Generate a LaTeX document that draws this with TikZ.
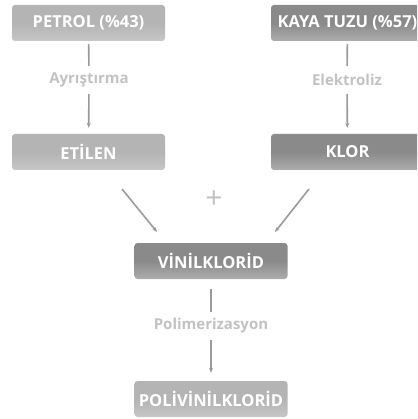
\documentclass[tikz,border=0pt]{standalone}
\usepackage{fontspec}
\setmainfont{Open Sans}
\usetikzlibrary{arrows.meta}
\definecolor{lightbox}{HTML}{B4B4B4}
\definecolor{darkbox}{HTML}{8A8A8A}
\definecolor{labgray}{HTML}{C2C2C2}
\definecolor{linegray}{HTML}{9A9A9A}
\tikzset{
  boxbase/.style={rounded corners=3pt, minimum width=153pt, minimum height=36pt, inner sep=0pt,
    text=white, font=\fontsize{16.5}{18}\selectfont\bfseries},
  lightnode/.style={boxbase, top color=lightbox, bottom color=lightbox!75!white, middle color=lightbox},
  darknode/.style={boxbase, top color=darkbox, bottom color=darkbox!70!white, middle color=darkbox},
  steplabel/.style={text=labgray, font=\fontsize{15}{17}\selectfont\bfseries, inner sep=0pt, minimum height=28pt},
  conn/.style={draw=linegray, line width=1.6pt},
  connarrow/.style={conn, -{Stealth[length=5pt,width=4pt]}}
}
\begin{document}
\begin{tikzpicture}[x=1pt,y=-1pt]
\useasboundingbox (0,0) rectangle (417,419);
\clip (0,0) rectangle (417,419);
\node[lightnode] (petrol) at (88.5,23) {PETROL (\%43)};
\node[darknode] (kaya) at (347.5,23) {KAYA TUZU (\%57)};
\node[steplabel] (ayr) at (89,80) {Ayrıştırma};
\node[steplabel] (elek) at (347,80) {Elektroliz};
\node[lightnode] (etilen) at (88.5,152) {ETİLEN};
\node[darknode] (klor) at (347.5,152) {KLOR};
\node[text=labgray, font=\fontsize{30}{32}\selectfont, inner sep=0pt] (plus) at (214,200) {+};
\node[darknode] (vinil) at (211,261) {VİNİLKLORİD};
\node[steplabel] (polim) at (211,326) {Polimerizasyon};
\node[lightnode] (poli) at (211,399) {POLİVİNİLKLORİD};
\coordinate (l1) at (122,189);
\coordinate (l2) at (157,232);
\coordinate (r1) at (309,189);
\coordinate (r2) at (275,232);
\draw[conn, shorten <=3pt] (petrol) -- (ayr);
\draw[connarrow, shorten >=6pt] (ayr) -- (etilen);
\draw[conn, shorten <=3pt] (kaya) -- (elek);
\draw[connarrow, shorten >=6pt] (elek) -- (klor);
\draw[connarrow] (l1) -- (l2);
\draw[connarrow] (r1) -- (r2);
\draw[conn, shorten <=10pt] (vinil) -- (polim);
\draw[connarrow, shorten >=8pt] (polim) -- (poli);
\end{tikzpicture}
\end{document}
